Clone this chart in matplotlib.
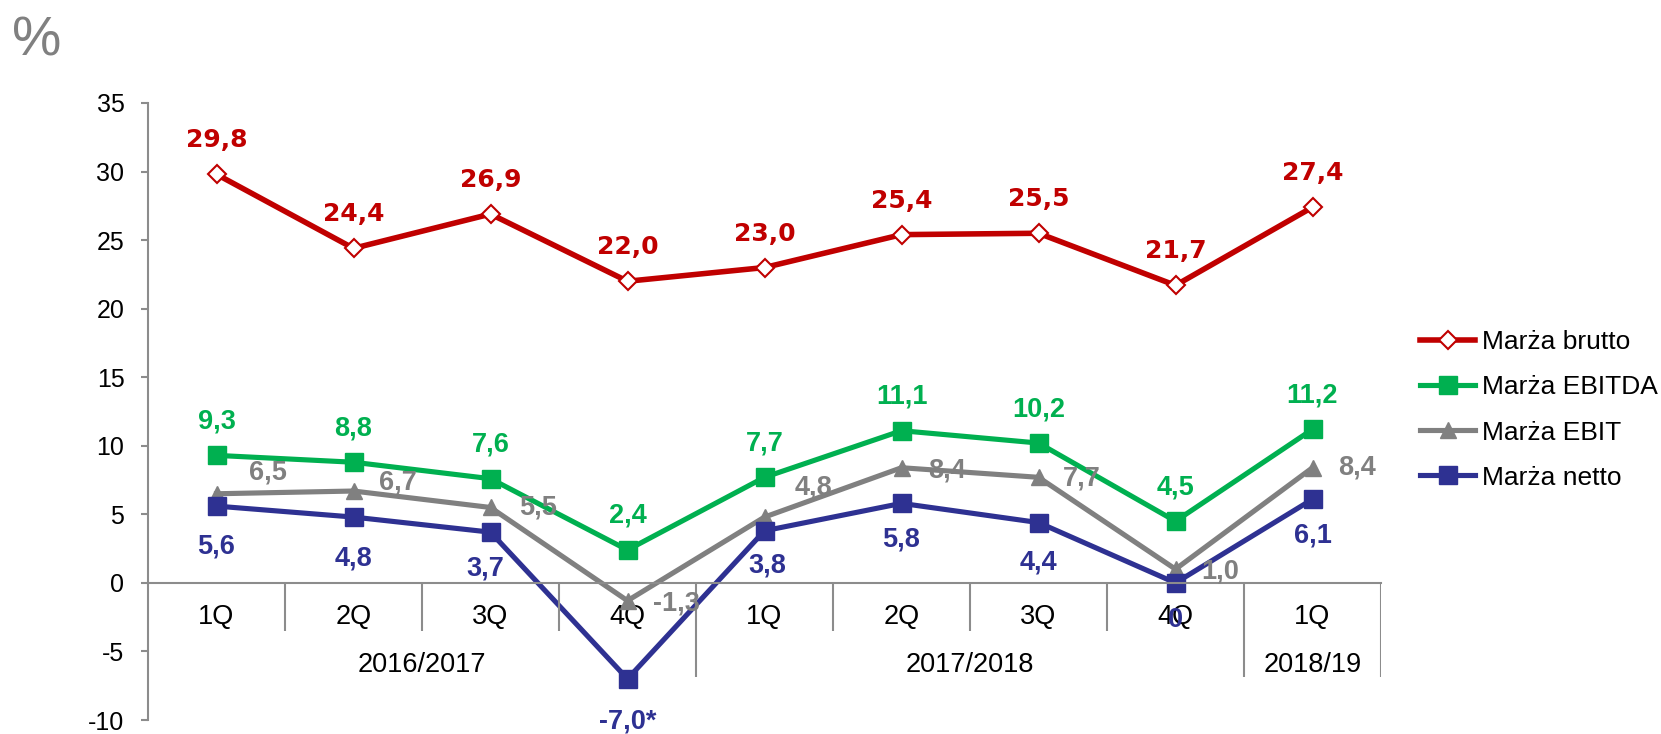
import matplotlib.pyplot as plt

plt.rcParams["axes.unicode_minus"] = False

# Data
quarters = ["1Q", "2Q", "3Q", "4Q", "1Q", "2Q", "3Q", "4Q", "1Q"]
years = ["2016/2017", "2017/2018", "2018/19"]
year_first = [0, 4, 8]
year_last = [3, 7, 8]

brutto = [29.8, 24.4, 26.9, 22.0, 23.0, 25.4, 25.5, 21.7, 27.4]
ebitda = [9.3, 8.8, 7.6, 2.4, 7.7, 11.1, 10.2, 4.5, 11.2]
ebit = [6.5, 6.7, 5.5, -1.3, 4.8, 8.4, 7.7, 1.0, 8.4]
netto = [5.6, 4.8, 3.7, -7.0, 3.8, 5.8, 4.4, 0.0, 6.1]
netto_text = ["5,6", "4,8", "3,7", "-7,0*", "3,8", "5,8", "4,4", "0", "6,1"]

# Colours
RED = "#C00000"
GREEN = "#00B050"
GREY = "#808080"
NAVY = "#2E3192"
AXIS = "#8C8C8C"

FONT = "Liberation Sans"


def fmt(v):
    return "{:.1f}".format(v).replace(".", ",")


fig = plt.figure(figsize=(16.61, 7.34), dpi=100)
ax = fig.add_axes([148 / 1661, 14 / 734, 1233 / 1661, 617 / 734])

x = list(range(len(quarters)))

ax.plot(x, brutto, color=RED, lw=4, marker="D", ms=9, mfc="white",
        mec=RED, mew=1.5, label="Marża brutto")
ax.plot(x, ebitda, color=GREEN, lw=3.7, marker="s", ms=13, label="Marża EBITDA")
ax.plot(x, ebit, color=GREY, lw=3.7, marker="^", ms=12, label="Marża EBIT")
ax.plot(x, netto, color=NAVY, lw=3.7, marker="s", ms=13, label="Marża netto")

# data labels
for i, v in enumerate(brutto):
    ax.annotate(fmt(v), (i, v), xytext=(0, 24.5), textcoords="offset points",
                ha="center", va="center", color=RED, fontsize=18,
                fontweight="bold", family="DejaVu Sans")
for i, v in enumerate(ebitda):
    ax.annotate(fmt(v), (i, v), xytext=(0, 24.5), textcoords="offset points",
                ha="center", va="center", color=GREEN, fontsize=19.5,
                fontweight="bold", family=FONT)

ebit_off = [(37, 15), (32, 6), (34, 0), (35, -2), (35, 21), (33, -2), (31, -1), (32, -2), (32, 0)]
for i, v in enumerate(ebit):
    ax.annotate(fmt(v), (i, v), xytext=ebit_off[i], textcoords="offset points",
                ha="center", va="center", color=GREY, fontsize=19.5,
                fontweight="bold", family=FONT)

netto_off = [(0, -29), (0, -30), (-4, -26), (0, -31), (2, -25), (0, -26), (0, -29), (0, -27), (0, -26)]
for i, v in enumerate(netto):
    ax.annotate(netto_text[i], (i, v), xytext=netto_off[i], textcoords="offset points",
                ha="center", va="center", color=NAVY, fontsize=19.5,
                fontweight="bold", family=FONT)

# axes
ax.set_xlim(-0.5, len(quarters) - 0.5)
ax.set_ylim(-10, 35)
ax.set_yticks(range(-10, 36, 5))
ax.spines["top"].set_visible(False)
ax.spines["right"].set_visible(False)
ax.spines["left"].set_color(AXIS)
ax.spines["left"].set_linewidth(1.5)
ax.spines["bottom"].set_position(("data", 0))
ax.spines["bottom"].set_color(AXIS)
ax.spines["bottom"].set_linewidth(1.5)

ax.tick_params(axis="y", direction="out", length=5, width=1.5, color=AXIS,
               labelsize=18, labelcolor="black", pad=12)
for t in ax.get_yticklabels():
    t.set_family(FONT)

ax.set_xticks(x)
ax.set_xticklabels(quarters, fontsize=19.5, family=FONT)
ax.tick_params(axis="x", length=0, pad=15)

# separators below the zero line
q_bounds = [i + 0.5 for i in x if i not in year_last]
y_bounds = [i + 0.5 for i in year_last]
ax.vlines(q_bounds, 0, -3.5, color=AXIS, lw=1.5)
ax.vlines(y_bounds, 0, -6.9, color=AXIS, lw=1.5)

for name, a, b in zip(years, year_first, year_last):
    ax.text((a + b) / 2, -6.0, name, ha="center", va="center",
            fontsize=19.5, family=FONT)

fig.text(12 / 1661, 1 - 41 / 734, "%", ha="left", va="center",
         fontsize=40, color=GREY, family=FONT)

leg = ax.legend(loc="center left", bbox_to_anchor=(1420 / 1661, 1 - 410 / 734),
                bbox_transform=fig.transFigure, frameon=False,
                prop={"family": FONT, "size": 19}, handlelength=2.1,
                handletextpad=0.25, labelspacing=0.8, borderpad=0,
                borderaxespad=0)

fig.savefig("out.png", dpi=100)
